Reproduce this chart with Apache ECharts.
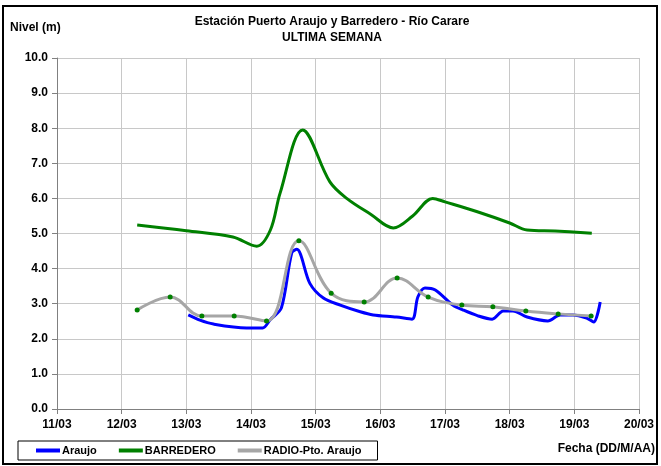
<!DOCTYPE html>
<html>
<head>
<meta charset="utf-8">
<script src="https://cdn.jsdelivr.net/npm/echarts@6/dist/echarts.min.js"></script>
<style>
  html, body { margin: 0; padding: 0; background: #fff; }
  #chart { width: 661px; height: 466px; }
</style>
</head>
<body>
<div id="chart"></div>
<script>
// days counted from 11/03
const dayLabels = ['11/03', '12/03', '13/03', '14/03', '15/03', '16/03', '17/03', '18/03', '19/03', '20/03'];

const araujo = [
    [2.03, 2.68], [2.21, 2.53], [2.42, 2.42], [2.93, 2.31], [3.18, 2.31], [3.30, 2.55],
    [3.47, 2.88], [3.63, 4.45], [3.71, 4.55], [3.91, 3.58], [4.12, 3.16], [4.38, 2.96],
    [4.69, 2.77], [4.89, 2.68], [5.25, 2.62], [5.49, 2.56], [5.58, 3.19], [5.69, 3.45],
    [5.85, 3.39], [6.12, 2.96], [6.28, 2.82], [6.50, 2.66], [6.73, 2.56], [6.90, 2.79],
    [7.05, 2.79], [7.27, 2.62], [7.59, 2.51], [7.78, 2.68], [7.98, 2.68], [8.19, 2.59],
    [8.30, 2.48], [8.40, 3.05]
];

const barredero = [
    [1.24, 5.24], [2.00, 5.08], [2.72, 4.90], [3.09, 4.64], [3.30, 5.10], [3.45, 6.15],
    [3.80, 7.95], [4.22, 6.47], [4.48, 6.00], [4.85, 5.55], [5.20, 5.16], [5.50, 5.50],
    [5.81, 6.00], [6.00, 5.90], [6.50, 5.62], [7.00, 5.30], [7.27, 5.10], [7.70, 5.07],
    [8.27, 5.01]
];

const radio = [
    [1.24, 2.82], [1.75, 3.19], [2.24, 2.65], [2.74, 2.65], [3.24, 2.51], [3.74, 4.79],
    [4.24, 3.30], [4.75, 3.05], [5.26, 3.73], [5.74, 3.19], [6.26, 2.96], [6.74, 2.91],
    [7.25, 2.79], [7.75, 2.71], [8.26, 2.65]
];

const labelFont = 'Liberation Sans';

const chart = echarts.init(document.getElementById('chart'));

const option = {
    animation: false,
    backgroundColor: '#fff',
    grid: { left: 57, right: 22, top: 58, bottom: 57 },
    legend: {
        left: 18,
        top: 441,
        itemWidth: 24,
        itemHeight: 4,
        itemGap: 22,
        borderColor: '#000',
        borderWidth: 1,
        padding: [4, 16, 4, 18],
        textStyle: { fontFamily: labelFont, fontSize: 11, fontWeight: 'bold', color: '#000', padding: [0, 0, 0, -3] },
        data: [
            { name: 'Araujo', icon: 'rect' },
            { name: 'BARREDERO', icon: 'rect' },
            { name: 'RADIO-Pto. Araujo', icon: 'rect', itemStyle: { color: '#a6a6a6' } }
        ]
    },
    xAxis: {
        type: 'value',
        min: 0,
        max: 9,
        interval: 1,
        axisLine: { show: true, lineStyle: { color: '#808080', width: 1 } },
        axisTick: { show: true, length: 5, lineStyle: { color: '#808080' } },
        axisLabel: {
            fontFamily: labelFont, fontSize: 12, fontWeight: 'bold', color: '#000', margin: 10,
            formatter: v => dayLabels[Math.round(v)]
        },
        splitLine: { show: true, lineStyle: { color: '#c8c8c8', width: 1 } }
    },
    yAxis: {
        type: 'value',
        min: 0,
        max: 10,
        interval: 1,
        axisLine: { show: true, lineStyle: { color: '#808080', width: 1 } },
        axisTick: { show: true, length: 5, lineStyle: { color: '#808080' } },
        axisLabel: {
            fontFamily: labelFont, fontSize: 12, fontWeight: 'bold', color: '#000', margin: 9,
            formatter: v => v.toFixed(1)
        },
        splitLine: { show: true, lineStyle: { color: '#c8c8c8', width: 1 } }
    },
    graphic: [
        {
            type: 'rect',
            shape: { x: 3, y: 6, width: 654, height: 458 },
            style: { fill: null, stroke: '#000', lineWidth: 2 },
            silent: true
        },
        {
            type: 'text',
            x: 332,
            y: 14,
            style: {
                text: 'Estación Puerto Araujo y Barredero - Río Carare\nULTIMA SEMANA',
                font: 'bold 12px "Liberation Sans"', fill: '#000', align: 'center', lineHeight: 16
            }
        },
        {
            type: 'text',
            left: 10,
            top: 22,
            style: { text: 'Nivel (m)', font: 'bold 12px "Liberation Sans"', fill: '#000' }
        },
        {
            type: 'text',
            right: 6,
            top: 443,
            style: { text: 'Fecha (DD/M/AA)', font: 'bold 12px "Liberation Sans"', fill: '#000' }
        }
    ],
    series: [
        {
            name: 'Araujo',
            type: 'line',
            data: araujo,
            smooth: 0.3,
            showSymbol: false,
            symbol: 'none',
            lineStyle: { color: '#0000ff', width: 3 },
            itemStyle: { color: '#0000ff' },
            z: 3
        },
        {
            name: 'BARREDERO',
            type: 'line',
            data: barredero,
            smooth: 0.35,
            showSymbol: false,
            symbol: 'none',
            lineStyle: { color: '#008000', width: 3 },
            itemStyle: { color: '#008000' },
            z: 2
        },
        {
            name: 'RADIO-Pto. Araujo',
            type: 'line',
            data: radio,
            smooth: 0.4,
            symbol: 'circle',
            symbolSize: 5,
            lineStyle: { color: '#a6a6a6', width: 3 },
            itemStyle: { color: '#008000', borderWidth: 0 },
            z: 4
        }
    ]
};

chart.setOption(option);
</script>
</body>
</html>
